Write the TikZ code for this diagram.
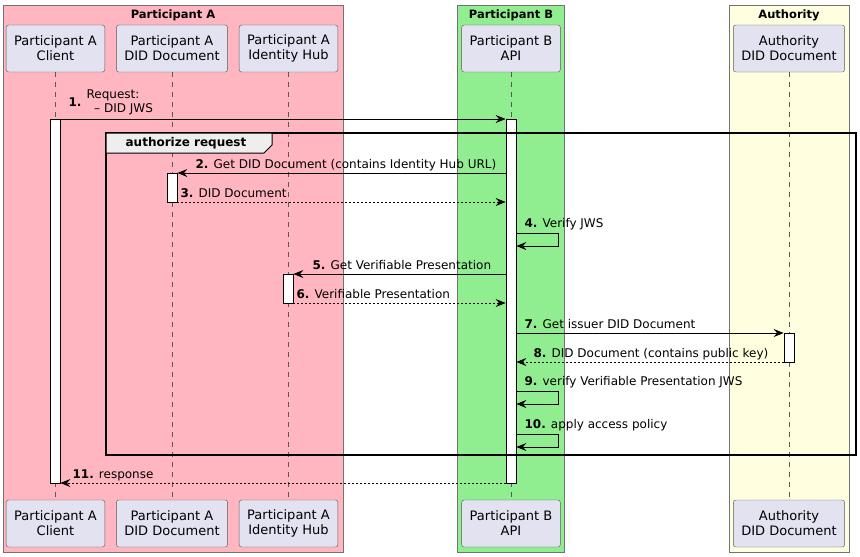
\documentclass[tikz,border=0pt]{standalone}
\usepackage{fontspec}
\setmainfont{DejaVu Sans}
\usetikzlibrary{arrows.meta,calc}
\definecolor{grpA}{HTML}{FFB6C1}
\definecolor{grpB}{HTML}{90EE90}
\definecolor{grpC}{HTML}{FFFFE0}
\definecolor{partfill}{HTML}{E2E2F0}
\definecolor{partline}{HTML}{5A5A5A}
\definecolor{tabfill}{HTML}{EEEEEE}
\newcommand{\partfont}{\fontsize{13}{15}\selectfont}
\newcommand{\msgfont}{\fontsize{12}{14}\selectfont}
\newcommand{\grpfont}{\fontsize{11.5}{13}\selectfont\bfseries}

\begin{document}
\begin{tikzpicture}[x=1pt,y=-1pt,>={Stealth[length=10pt,width=8pt,inset=3.5pt]},
  part/.style={draw=partline,fill=partfill,rounded corners=2.5pt,align=center,
    minimum height=47pt,inner xsep=8pt,font=\partfont},
  act/.style={draw=black,fill=white,minimum width=10pt,inner sep=0pt,line width=0.8pt},
  msg/.style={->,line width=0.7pt},
  ret/.style={msg,dash pattern=on 2pt off 2pt},
  lbl/.style={font=\msgfont,inner sep=0pt,anchor=base west},
  grp/.style={draw=gray!90!black,line width=0.6pt},
  life/.style={draw=gray!70!black,dash pattern=on 5pt off 5pt,line width=0.5pt}]
  \useasboundingbox (0,0) rectangle (860,557);
  % groups
  \filldraw[grp,fill=grpA] (3,5) rectangle (343,552);
  \filldraw[grp,fill=grpB] (457,5) rectangle (564,552);
  \filldraw[grp,fill=grpC] (729,5) rectangle (849,552);
  \node[font=\grpfont] (gA) at (173,15) {Participant A};
  \node[font=\grpfont] (gB) at (511,15) {Participant B};
  \node[font=\grpfont] (gC) at (789,15) {Authority};
  % participants
  \node[part] (clientT) at (55.5,48.5)  {Participant A\\Client};
  \node[part] (diddocT) at (172,48.5)   {Participant A\\DID Document};
  \node[part] (hubT)    at (288.5,48.5) {Participant A\\Identity Hub};
  \node[part] (apiT)    at (511,48.5)   {Participant B\\API};
  \node[part] (authT)   at (789,48.5)   {Authority\\DID Document};
  \node[part] (clientB) at (55.5,523.5)  {Participant A\\Client};
  \node[part] (diddocB) at (172,523.5)   {Participant A\\DID Document};
  \node[part] (hubB)    at (288.5,523.5) {Participant A\\Identity Hub};
  \node[part] (apiB)    at (511,523.5)   {Participant B\\API};
  \node[part] (authB)   at (789,523.5)   {Authority\\DID Document};
  \foreach \a/\b in {clientT/clientB,diddocT/diddocB,hubT/hubB,apiT/apiB,authT/authB}
    \draw[life] (\a) -- (\b);
  % message rows
  \foreach \n/\y in {m1/119,m2/173,m3/202,m4/233,m4b/246,m5/274,m6/303,m7/333,
      m8/362,m9/391,m9b/404,m10/434,m10b/447,m11/483}
    \coordinate (\n) at (0,\y);
  % activations
  \node[act,minimum height=364pt] (actC) at (55,301) {};
  \node[act,minimum height=364pt] (actB) at (511,301) {};
  \node[act,minimum height=29pt] (actD) at (172,187.5) {};
  \node[act,minimum height=29pt] (actH) at (288,288.5) {};
  \node[act,minimum height=29pt] (actU) at (789,347.5) {};
  % frame
  \draw[line width=1.4pt] (106,133) rectangle (856,455);
  \filldraw[fill=tabfill,line width=1pt] (106,133) -- (272,133) -- (272,145) -- (264,153) -- (106,153) -- cycle;
  \node[font=\fontsize{12}{14}\selectfont\bfseries] (frm) at (186,143) {authorize request};
  % messages
  \draw[msg] (actC.east |- m1) -- (actB.west |- m1);
  \node[lbl,anchor=west] (l1) at ($(actC.east |- m1)+(8,-16)$)
    {\textbf{1.} \begin{tabular}[c]{@{}l@{}}Request:\\\ \ – DID JWS\end{tabular}};
  \draw[msg] (actB.west |- m2) -- (actD.east |- m2);
  \node[lbl] (l2) at ($(actD.east |- m2)+(18,-5)$) {\textbf{2.} Get DID Document (contains Identity Hub URL)};
  \draw[ret] (actD.east |- m3) -- (actB.west |- m3);
  \node[lbl] (l3) at ($(actD.east |- m3)+(3,-5)$) {\textbf{3.} DID Document};
  \draw[msg] (actB.east |- m4) -- ++(42,0) -- ++(0,13) -- (actB.east |- m4b);
  \node[lbl] (l4) at ($(actB.east |- m4)+(8,-6)$) {\textbf{4.} Verify JWS};
  \draw[msg] (actB.west |- m5) -- (actH.east |- m5);
  \node[lbl] (l5) at ($(actH.east |- m5)+(19,-5)$) {\textbf{5.} Get Verifiable Presentation};
  \draw[ret] (actH.east |- m6) -- (actB.west |- m6);
  \node[lbl] (l6) at ($(actH.east |- m6)+(3,-5)$) {\textbf{6.} Verifiable Presentation};
  \draw[msg] (actB.east |- m7) -- (actU.west |- m7);
  \node[lbl] (l7) at ($(actB.east |- m7)+(8,-5)$) {\textbf{7.} Get issuer DID Document};
  \draw[ret] (actU.west |- m8) -- (actB.east |- m8);
  \node[lbl] (l8) at ($(actB.east |- m8)+(17,-5)$) {\textbf{8.} DID Document (contains public key)};
  \draw[msg] (actB.east |- m9) -- ++(42,0) -- ++(0,13) -- (actB.east |- m9b);
  \node[lbl] (l9) at ($(actB.east |- m9)+(8,-6)$) {\textbf{9.} verify Verifiable Presentation JWS};
  \draw[msg] (actB.east |- m10) -- ++(42,0) -- ++(0,13) -- (actB.east |- m10b);
  \node[lbl] (l10) at ($(actB.east |- m10)+(8,-6)$) {\textbf{10.} apply access policy};
  \draw[ret] (actB.west |- m11) -- (actC.east |- m11);
  \node[lbl] (l11) at ($(actC.east |- m11)+(12,-5)$) {\textbf{11.} response};
\end{tikzpicture}
\end{document}
